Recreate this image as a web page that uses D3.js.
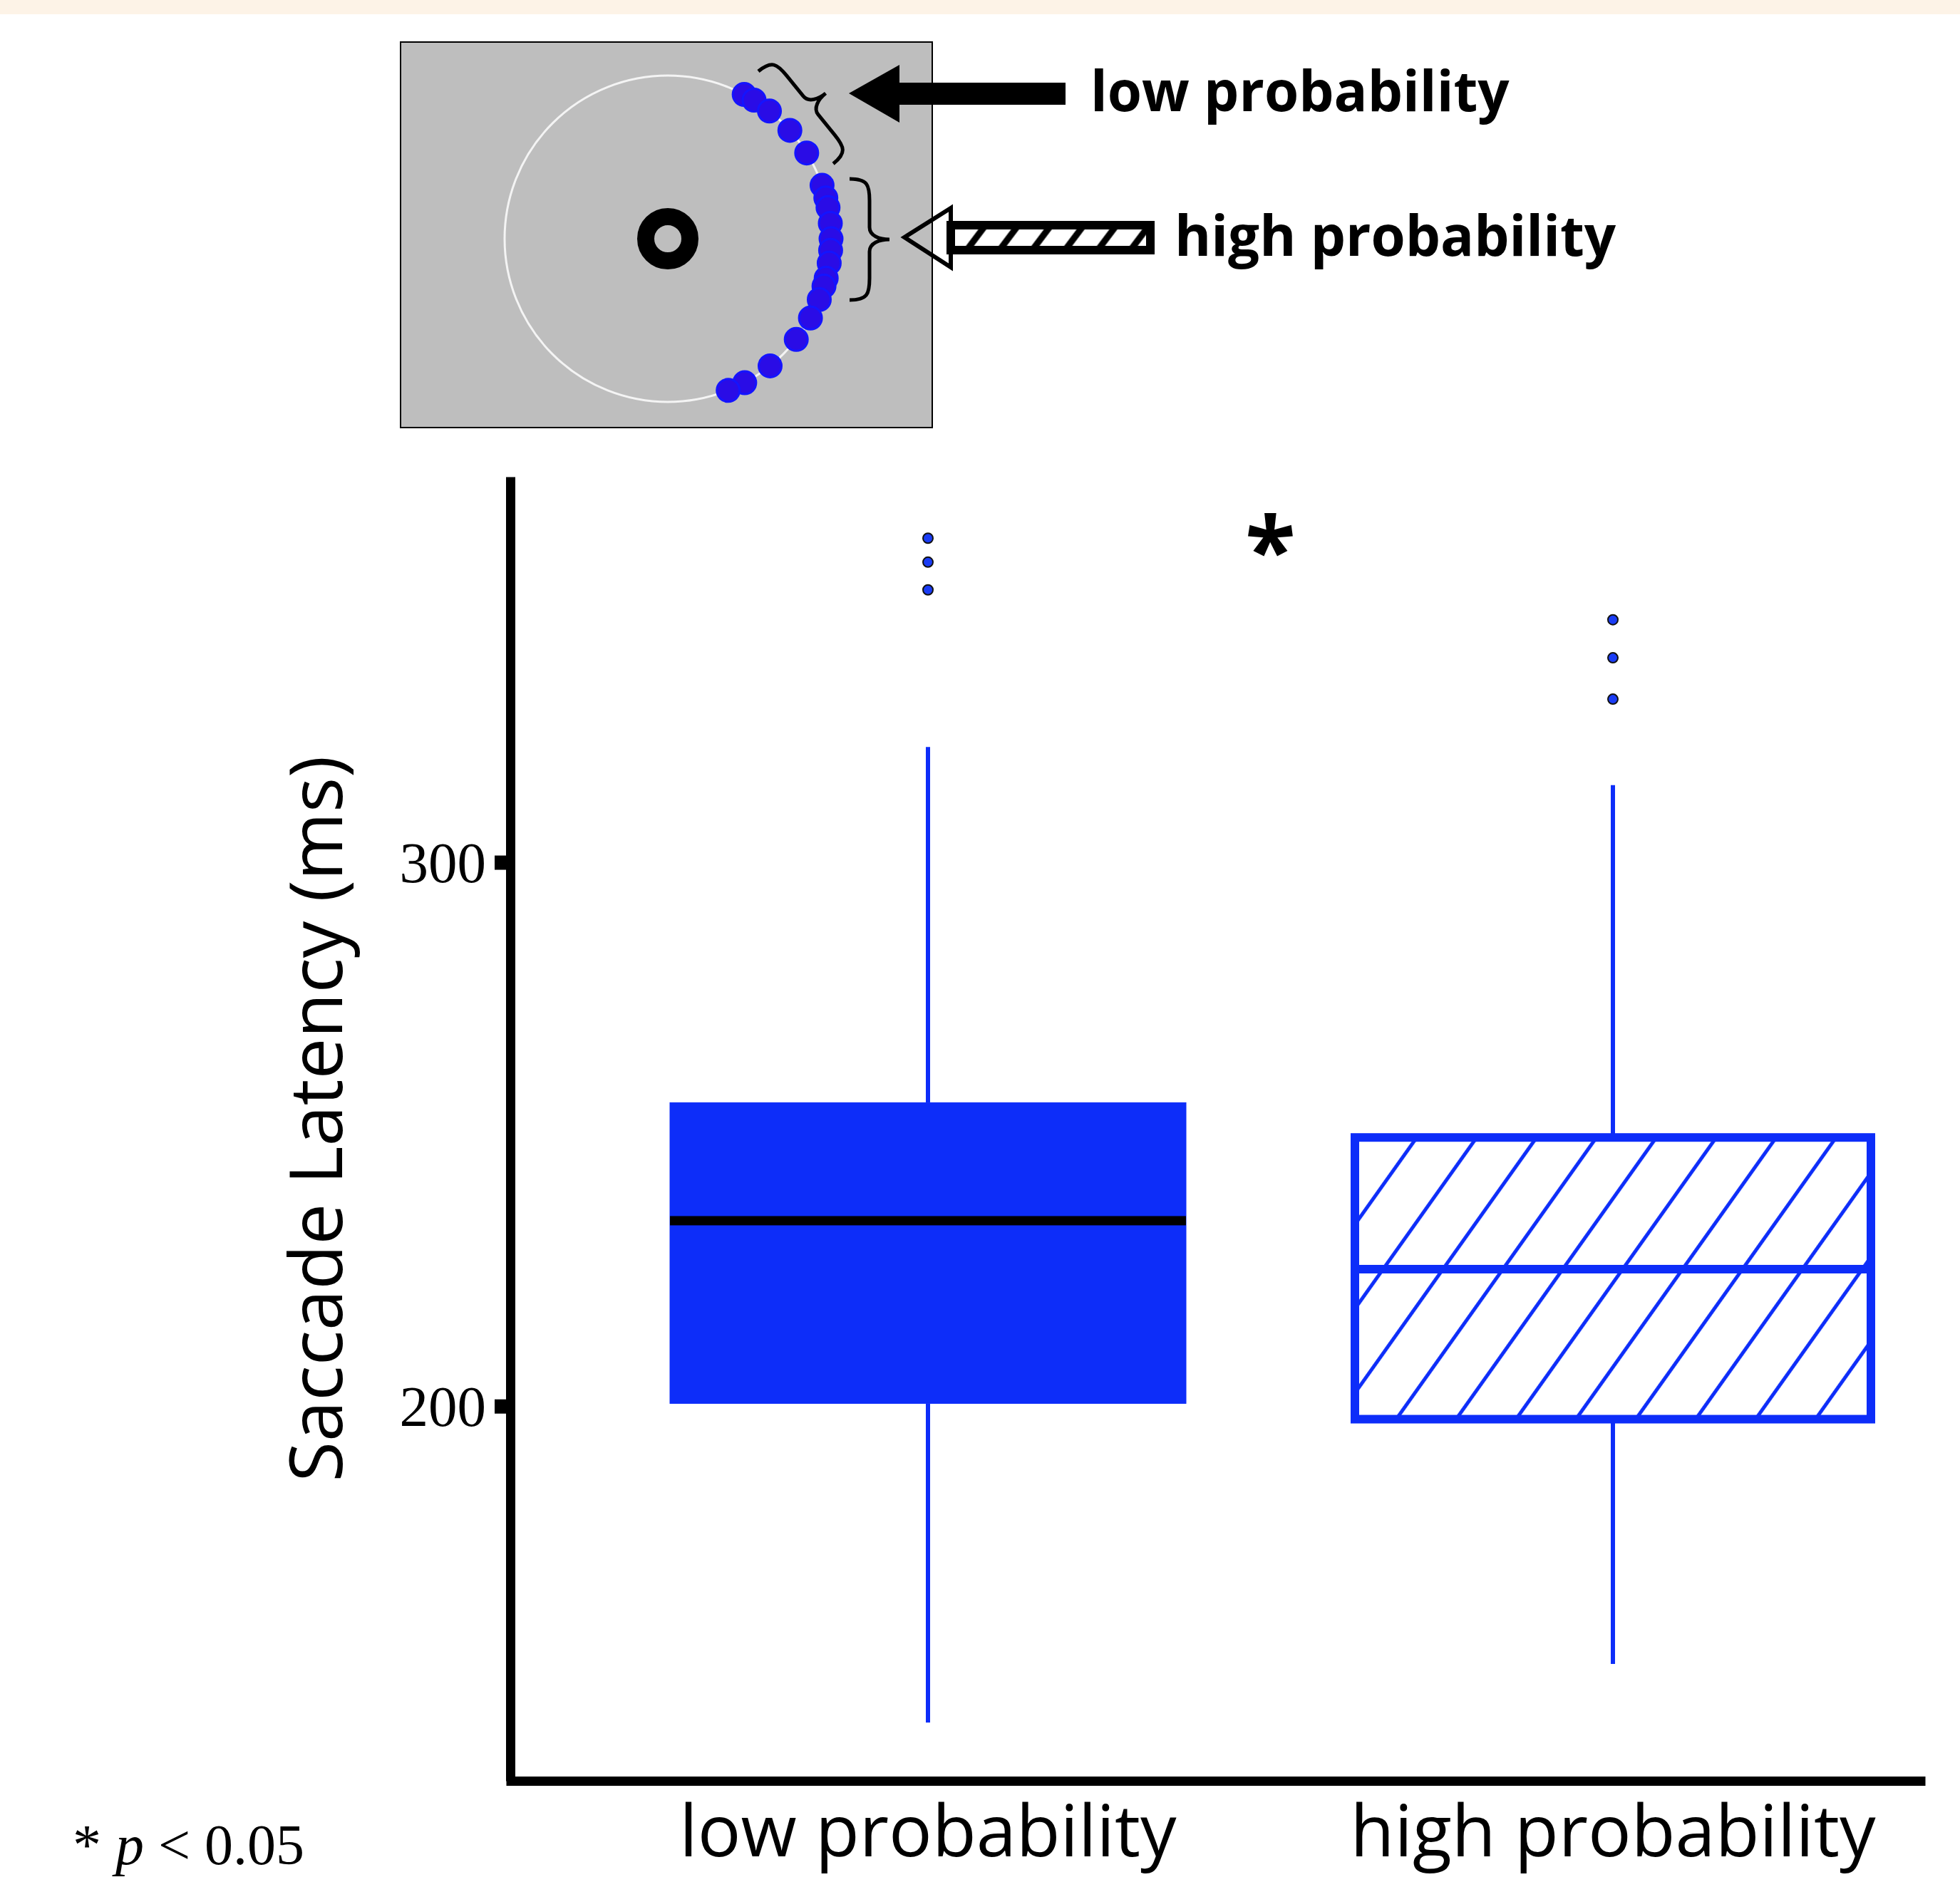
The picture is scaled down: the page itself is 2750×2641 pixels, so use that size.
<!DOCTYPE html>
<html>
<head>
<meta charset="utf-8">
<script src="https://cdn.jsdelivr.net/npm/d3@7"></script>
<style>
  body { margin: 0; background: #fff; }
  svg { display: block; }
</style>
</head>
<body>
<script>
// box plot values (ms)
const conditions = ["low probability", "high probability"];
const q1 = [200.5, 197.6];
const medians = [234.1, 225.2];
const q3 = [255.8, 249.4];
const whiskerLow = [141.8, 152.6];
const whiskerHigh = [321.2, 314.2];
const outliers = [[359.6, 355.2, 350.1], [344.6, 337.6, 330.0]];
const yTicks = [200, 300];

// inset: target positions on the ring, degrees (0 = right, positive = down)
const targetAngles = [-62.1, -58.1, -51.5, -41.6, -31.7, -19.1, -14.5, -11.0, -5.4, 0,
                      4.1, 8.6, 14.0, 16.9, 21.9, 29.1, 38.1, 51.2, 61.9, 68.3];

const width = 2750, height = 2641;
const blue = "#0d2df9";
const sans = "'Open Sans', 'Noto Sans', sans-serif";
const serif = "'Liberation Serif', 'DejaVu Serif', serif";

const svg = d3.select("body").append("svg")
    .attr("width", width)
    .attr("height", height);

const defs = svg.append("defs");

// top band
svg.append("rect")
    .attr("x", 0).attr("y", 0)
    .attr("width", width).attr("height", 20)
    .attr("fill", "#fdf3e7");

// ---------- main plot ----------
const plot = {left: 716, right: 2701, top: 669, bottom: 2499};

const y = d3.scaleLinear()
    .domain([131.1, 370.9])
    .range([plot.bottom, plot.top]);

const x = d3.scalePoint()
    .domain(conditions)
    .range([plot.left + 586, plot.left + 1547]);

const boxWidth = 724;

// hatch pattern for the high-probability box
const hatchSpacing = 68.5, hatchAngle = 35.4;
const rad = hatchAngle * Math.PI / 180;
const hatchPhase = ((1988 * Math.cos(rad) + 1596 * Math.sin(rad)) % hatchSpacing);
const hatch = defs.append("pattern")
    .attr("id", "hatch")
    .attr("patternUnits", "userSpaceOnUse")
    .attr("width", hatchSpacing)
    .attr("height", 20)
    .attr("patternTransform", `rotate(${hatchAngle})`);
hatch.append("rect").attr("width", hatchSpacing).attr("height", 20).attr("fill", "#fff");
hatch.append("line")
    .attr("x1", hatchPhase).attr("x2", hatchPhase)
    .attr("y1", -5).attr("y2", 25)
    .attr("stroke", blue).attr("stroke-width", 5);

const boxes = svg.append("g")
    .selectAll("g")
    .data(conditions)
    .join("g");

// whiskers
boxes.append("line")
    .attr("x1", d => x(d)).attr("x2", d => x(d))
    .attr("y1", (d, i) => y(whiskerHigh[i]))
    .attr("y2", (d, i) => y(q3[i]))
    .attr("stroke", blue).attr("stroke-width", 6);

boxes.append("line")
    .attr("x1", d => x(d)).attr("x2", d => x(d))
    .attr("y1", (d, i) => y(q1[i]))
    .attr("y2", (d, i) => y(whiskerLow[i]))
    .attr("stroke", blue).attr("stroke-width", 6);

// boxes
boxes.append("rect")
    .attr("x", d => x(d) - boxWidth / 2)
    .attr("width", boxWidth)
    .attr("y", (d, i) => y(q3[i]))
    .attr("height", (d, i) => y(q1[i]) - y(q3[i]))
    .attr("fill", (d, i) => i === 0 ? blue : "url(#hatch)")
    .attr("stroke", blue)
    .attr("stroke-width", (d, i) => i === 0 ? 1 : 12);

// medians
boxes.append("line")
    .attr("x1", d => x(d) - boxWidth / 2)
    .attr("x2", (d, i) => x(d) + boxWidth / 2 + (i === 0 ? 0 : 6))
    .attr("y1", (d, i) => y(medians[i]))
    .attr("y2", (d, i) => y(medians[i]))
    .attr("stroke", (d, i) => i === 0 ? "#000" : blue)
    .attr("stroke-width", (d, i) => i === 0 ? 13 : 12);

// outliers
boxes.selectAll("circle")
    .data((d, i) => outliers[i].map(v => ({cond: d, v})))
    .join("circle")
    .attr("cx", d => x(d.cond))
    .attr("cy", d => y(d.v))
    .attr("r", 7)
    .attr("fill", "#1a3cf5")
    .attr("stroke", "#111")
    .attr("stroke-width", 2);

// y axis
const yAxis = svg.append("g")
    .attr("transform", `translate(${plot.left},0)`)
    .call(d3.axisLeft(y).tickValues(yTicks).tickSize(22).tickSizeOuter(0).tickPadding(12));
yAxis.select(".domain").attr("stroke", "#000").attr("stroke-width", 13);
yAxis.selectAll(".tick line").attr("stroke", "#000").attr("stroke-width", 20);
yAxis.selectAll(".tick text")
    .attr("font-family", serif)
    .attr("font-size", 81)
    .attr("fill", "#000")
    .attr("dy", "0.34em");

// x axis
const xAxisScale = d3.scaleLinear().domain([0, 1]).range([plot.left - 6, plot.right]);
const xAxis = svg.append("g")
    .attr("transform", `translate(0,${plot.bottom})`)
    .call(d3.axisBottom(xAxisScale).tickValues([]).tickSizeOuter(0));
xAxis.select(".domain").attr("stroke", "#000").attr("stroke-width", 13);

svg.append("g")
    .selectAll("text")
    .data(conditions)
    .join("text")
    .attr("x", d => x(d))
    .attr("y", 2605)
    .attr("text-anchor", "middle")
    .attr("font-family", sans)
    .attr("font-size", 101)
    .attr("fill", "#000")
    .text(d => d);

// y title
svg.append("text")
    .attr("transform", "translate(480,1570) rotate(-90)")
    .attr("text-anchor", "middle")
    .attr("font-family", sans)
    .attr("font-size", 103)
    .attr("fill", "#000")
    .text("Saccade Latency (ms)");

// significance star
svg.append("text")
    .attr("x", (x(conditions[0]) + x(conditions[1])) / 2)
    .attr("y", 818)
    .attr("text-anchor", "middle")
    .attr("font-family", sans)
    .attr("font-weight", 700)
    .attr("font-size", 130)
    .attr("fill", "#000")
    .text("*");

// footnote
const note = svg.append("text")
    .attr("x", 102)
    .attr("y", 2616)
    .attr("font-family", serif)
    .attr("font-size", 80)
    .attr("fill", "#000");
note.append("tspan").text("* ");
note.append("tspan").attr("font-style", "italic").text("p");
note.append("tspan").text(" < 0.05");

// ---------- inset ----------
const inset = svg.append("g");

inset.append("rect")
    .attr("x", 562).attr("y", 59)
    .attr("width", 746).attr("height", 541)
    .attr("fill", "#bebebe")
    .attr("stroke", "#000")
    .attr("stroke-width", 2);

const ring = {cx: 937, cy: 335, r: 229};

inset.append("circle")
    .attr("cx", ring.cx).attr("cy", ring.cy).attr("r", ring.r)
    .attr("fill", "none")
    .attr("stroke", "#f4f4f4")
    .attr("stroke-width", 3);

// fixation ring
inset.append("circle")
    .attr("cx", ring.cx).attr("cy", ring.cy).attr("r", 31)
    .attr("fill", "none")
    .attr("stroke", "#000")
    .attr("stroke-width", 24);

inset.selectAll(".target")
    .data(targetAngles)
    .join("circle")
    .attr("class", "target")
    .attr("cx", a => ring.cx + ring.r * Math.cos(a * Math.PI / 180))
    .attr("cy", a => ring.cy + ring.r * Math.sin(a * Math.PI / 180))
    .attr("r", 16)
    .attr("fill", "#2a0ce6")
    .attr("stroke", "#1414ff")
    .attr("stroke-width", 3);

// curly brace along local y axis, nib pointing to +x
const brace = (L, w) => {
    const h = w * 0.5;
    return `M0,0 C${h * 0.9},0 ${h},${L * 0.05} ${h},${L * 0.18}`
        + ` L${h},${L * 0.4} C${h},${L * 0.47} ${w * 0.75},${L * 0.5} ${w},${L * 0.5}`
        + ` C${w * 0.75},${L * 0.5} ${h},${L * 0.53} ${h},${L * 0.6}`
        + ` L${h},${L * 0.82} C${h},${L * 0.95} ${h * 0.9},${L} 0,${L}`;
};

inset.append("path")
    .attr("d", brace(170, 56))
    .attr("transform", "translate(1192,251)")
    .attr("fill", "none")
    .attr("stroke", "#000")
    .attr("stroke-width", 5);

inset.append("path")
    .attr("d", brace(167, 54))
    .attr("transform", "translate(1064,100) rotate(-39)")
    .attr("fill", "none")
    .attr("stroke", "#000")
    .attr("stroke-width", 5);

// filled arrow -> low probability
inset.append("path")
    .attr("d", "M1191,131 L1262,91 L1262,116 L1495,116 L1495,147 L1262,147 L1262,172 Z")
    .attr("fill", "#000");

// hatched open arrow -> high probability
const smallHatch = defs.append("pattern")
    .attr("id", "smallHatch")
    .attr("patternUnits", "userSpaceOnUse")
    .attr("width", 36.7)
    .attr("height", 20)
    .attr("patternTransform", "rotate(37)");
smallHatch.append("rect").attr("width", 36.7).attr("height", 20).attr("fill", "#fff");
smallHatch.append("line")
    .attr("x1", 10).attr("x2", 10).attr("y1", -5).attr("y2", 25)
    .attr("stroke", "#000").attr("stroke-width", 9);

inset.append("rect")
    .attr("x", 1334).attr("y", 316)
    .attr("width", 280).attr("height", 35)
    .attr("fill", "url(#smallHatch)")
    .attr("stroke", "#000")
    .attr("stroke-width", 12);

inset.append("path")
    .attr("d", "M1334,292 L1269,333 L1334,375 Z")
    .attr("fill", "none")
    .attr("stroke", "#000")
    .attr("stroke-width", 6)
    .attr("stroke-linejoin", "miter");

inset.append("text")
    .attr("x", 1530).attr("y", 156)
    .attr("font-family", sans)
    .attr("font-weight", 700)
    .attr("font-size", 78)
    .attr("fill", "#000")
    .text("low probability");

inset.append("text")
    .attr("x", 1648).attr("y", 359)
    .attr("font-family", sans)
    .attr("font-weight", 700)
    .attr("font-size", 78)
    .attr("fill", "#000")
    .text("high probability");
</script>
</body>
</html>
